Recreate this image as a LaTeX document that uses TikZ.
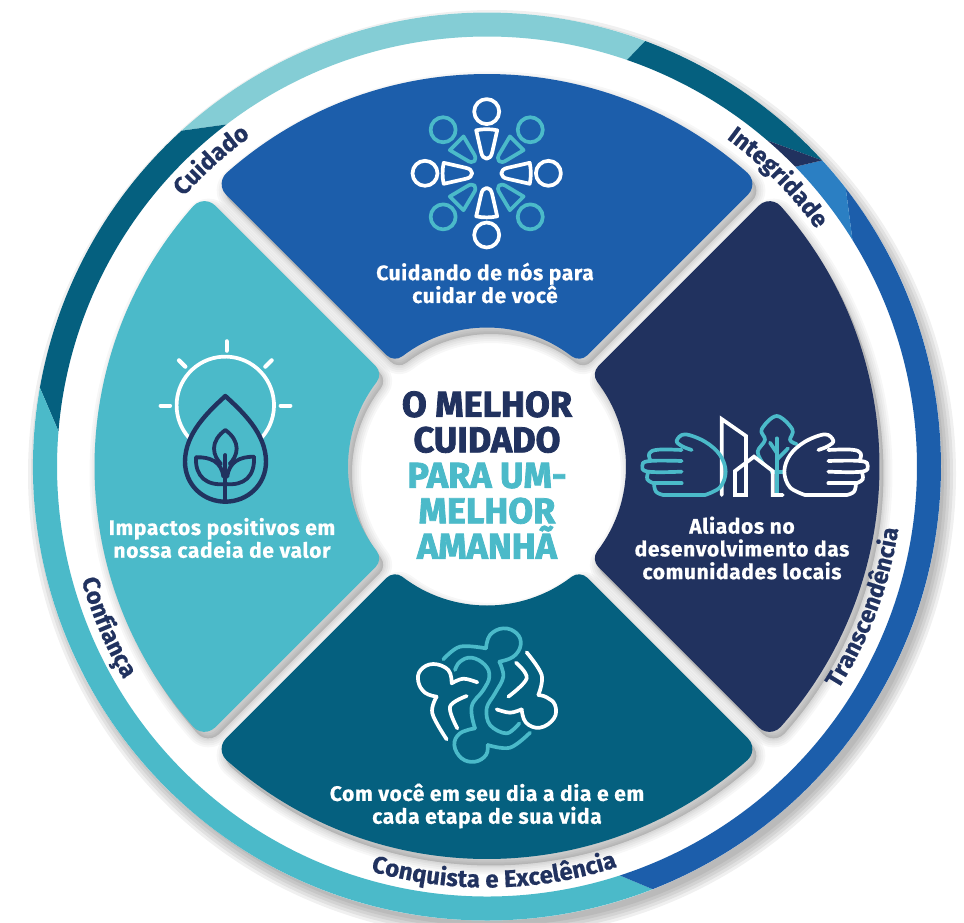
\documentclass[tikz,border=0pt]{standalone}
\usepackage{fontspec}
\setmainfont{Fira Sans}
\usetikzlibrary{decorations.text}
\definecolor{cblue}{HTML}{1C5EAB}
\definecolor{cnavy}{HTML}{21325F}
\definecolor{cdeep}{HTML}{05607F}
\definecolor{cteal}{HTML}{4BBAC9}
\definecolor{clight}{HTML}{84CDD5}
\definecolor{cmid}{HTML}{2B7FC3}
\newcommand{\ringfont}{\fontsize{24}{24}\selectfont\bfseries\addfontfeature{FakeBold=0.6}}
\newcommand{\ringlabel}[4]{% text, centre angle, radius, direction
  \path[decorate,decoration={text along path,text align=center,
     text={|\ringfont\color{cnavy}|#1}}]
     ({#2-#4*40}:#3) arc[start angle={#2-#4*40},end angle={#2+#4*40},radius=#3];}
\tikzset{
  capt/.style={text=white,font=\fontsize{21}{22.8}\selectfont\bfseries\addfontfeature{FakeBold=0.6,LetterSpace=3},align=center,inner sep=0pt},
  title/.style={font=\fontsize{36}{35.5}\selectfont\bfseries\addfontfeature{FakeBold=2.2},align=center,inner sep=0pt},
  iconw/.style={draw=white,line width=3.7pt,line cap=round,line join=round},
  icont/.style={draw=cteal,line width=3.7pt,line cap=round,line join=round},
  iconn/.style={draw=cnavy,line width=4.4pt,line cap=round,line join=round},
}
\newcommand{\secpath}{%
  (45:\tI) ++(135:\secD) -- ++(45:{\tO-\tI})
  arc[start angle=-45,end angle=\thO,radius=\secF]
  arc[start angle=\thO,end angle={180-\thO},radius=\secR]
  arc[start angle={180-\thO},end angle=225,radius=\secF]
  -- ++(-45:{\tO-\tI})
  arc[start angle=225,end angle={360-\thI},radius=\secG]
  arc[start angle={180-\thI},end angle=\thI,radius=\secr]
  arc[start angle={180+\thI},end angle=315,radius=\secG] -- cycle}
\newcommand{\handpath}[1]{%
  \draw[#1] plot[smooth,tension=.6] coordinates {(185,150)(155,138)(140,122)(165,103)(225,125)(270,165)(287,215)(270,262)(225,285)} -- (100,285);
  \draw[#1] plot[smooth,tension=.7] coordinates {(155,150)(85,149)(58,160)(62,183)};
  \draw[#1] plot[smooth,tension=.7] coordinates {(155,183)(58,183)(37,197)(55,215)(155,215)};
  \draw[#1] plot[smooth,tension=.7] coordinates {(55,215)(52,238)(72,250)};
  \draw[#1] (72,250) -- (155,250);
  \draw[#1] plot[smooth,tension=.7] coordinates {(72,250)(78,275)(100,285)};
}
\begin{document}
\begin{tikzpicture}[x=1pt,y=1pt]
\useasboundingbox (0,0) rectangle (964,-922);
\fill[white] (0,0) rectangle (964,-922);
\pgfmathsetmacro\secD{7.7}
\pgfmathsetmacro\secR{392.5}
\pgfmathsetmacro\secr{139}
\pgfmathsetmacro\secF{15}
\pgfmathsetmacro\secG{12}
\pgfmathsetmacro\thO{45+asin((\secD+\secF)/(\secR-\secF))}
\pgfmathsetmacro\thI{45+asin((\secD+\secG)/(\secr+\secG))}
\pgfmathsetmacro\tO{10*sqrt(((\secR-\secF)/10)^2-((\secD+\secF)/10)^2)}
\pgfmathsetmacro\tI{10*sqrt(((\secr+\secG)/10)^2-((\secD+\secG)/10)^2)}
% ring shadow
\foreach \w in {10,7,4,1,-2}{
  \fill[black,opacity=.06] (492,-474) circle ({454+\w});
}
\fill[white] (487,-466.5) circle (454);
% sector shadows
\foreach \rot in {90,180,270,0}{
 \foreach \w in {18,14,10,6,3}{
  \begin{scope}[shift={(491,-473)},rotate=\rot]
   \draw[black,line width=\w pt,opacity=.032,line join=round] \secpath;
   \fill[black,opacity=.032] \secpath;
  \end{scope}
 }
}
% white centre kept light at the middle
\fill[white] (487,-465.6) circle (118);
% ring
\begin{scope}[shift={(487,-466.5)}]
  \fill[clight] (69.6:454) arc[start angle=69.6,end angle=132.3,radius=454] -- (127.3:430) arc[start angle=127.3,end angle=71,radius=430] -- cycle;
  \fill[cdeep] (132.3:454) arc[start angle=132.3,end angle=170,radius=454] -- (175.3:430) arc[start angle=175.3,end angle=127.3,radius=430] -- cycle;
  \fill[cteal] (170:454) arc[start angle=170,end angle=291.4,radius=454] -- (288:430) arc[start angle=288,end angle=175.3,radius=430] -- cycle;
  \fill[cblue] (291.4:454) arc[start angle=291.4,end angle=397.8,radius=454] -- (391.8:430) arc[start angle=391.8,end angle=288,radius=430] -- cycle;
  \fill[cmid] (37.8:454) arc[start angle=37.8,end angle=42.4,radius=454] -- (44.2:430) arc[start angle=44.2,end angle=31.8,radius=430] -- cycle;
  \fill[cdeep] (42.4:454) arc[start angle=42.4,end angle=69.6,radius=454] -- (71:430) arc[start angle=71,end angle=49.3,radius=430] -- cycle;
  \fill[cnavy] (42.4:454) -- (49.3:430) arc[start angle=49.3,end angle=44.2,radius=430] -- cycle;
\end{scope}
% sectors
\begin{scope}[shift={(487,-466.5)}]
  \fill[cblue] \secpath;
  \begin{scope}[rotate=90]\fill[cteal] \secpath;\end{scope}
  \begin{scope}[rotate=180]\fill[cdeep] \secpath;\end{scope}
  \begin{scope}[rotate=270]\fill[cnavy] \secpath;\end{scope}
\end{scope}
% ring labels
\begin{scope}[shift={(487,-466.5)}]
  \ringlabel{Cuidado}{132}{406}{-1}
  \ringlabel{Integridade}{44.8}{406}{-1}
  \ringlabel{Transcendência}{-20.5}{416}{1}
  \ringlabel{Conquista e Excelência}{271}{421}{1}
  \ringlabel{Confiança}{203}{421}{1}
\end{scope}
% people icon
\begin{scope}[shift={(486.7,-173.3)}]
  \foreach \a in {45,135,225,315}{
   \begin{scope}[rotate=\a]
    \draw[icont] (0,61.6) circle (12.5);
    \draw[icont] (-9.7,42.5) -- (9.7,42.5) -- (5,24) .. controls (3.5,15) and (-3.5,15) .. (-5,24) -- cycle;
   \end{scope}}
  \foreach \a in {0,90,180,270}{
   \begin{scope}[rotate=\a]
    \draw[iconw] (0,61.7) circle (12.5);
    \draw[iconw] (-10.5,43) .. controls (-4,44.5) and (4,44.5) .. (10.5,43) -- (5.5,21) .. controls (4,12.5) and (-4,12.5) .. (-5.5,21) -- cycle;
   \end{scope}}
\end{scope}
% sun and drop
\begin{scope}[shift={(225.3,-405.3)}]
  \draw[iconw] (-41.4:48.7) arc[start angle=-41.4,end angle=221.4,radius=48.7];
\end{scope}
\begin{scope}[shift={(140,-330)},scale=1/3,yscale=-1]
  \draw[iconw,line width=4.2pt] (260,34) -- (260,62);
  \draw[iconw,line width=4.2pt] (62,227) -- (90,227);
  \draw[iconw,line width=4.2pt] (422,227) -- (451,227);
  \draw[iconw,line width=4.2pt] (117,91) -- (136,110);
  \draw[iconw,line width=4.2pt] (395,91) -- (376,110);
  \draw[iconn] (256,198) .. controls (205,245) and (135,310) .. (135,395) .. controls (135,465) and (190,515) .. (256,515) .. controls (322,515) and (378,465) .. (378,395) .. controls (378,310) and (307,245) .. (256,198) -- cycle;
  \draw[iconn,line width=3.8pt] (256,300) .. controls (235,315) and (222,335) .. (222,355) .. controls (222,375) and (232,390) .. (243,402);
  \draw[iconn,line width=3.8pt] (256,300) .. controls (277,315) and (290,335) .. (290,355) .. controls (290,375) and (280,390) .. (269,402);
  \draw[iconn,line width=3.8pt] (168,382) .. controls (210,380) and (245,395) .. (250,440);
  \draw[iconn,line width=3.8pt] (168,382) .. controls (165,440) and (200,468) .. (256,462);
  \draw[iconn,line width=3.8pt] (342,380) .. controls (300,380) and (267,395) .. (262,440);
  \draw[iconn,line width=3.8pt] (342,380) .. controls (345,440) and (312,468) .. (256,462);
  \draw[iconn,line width=3.8pt] (256,375) -- (256,510);
\end{scope}
% hands, tree, buildings
\begin{scope}[shift={(630,-400)},scale=1/3,yscale=-1]
  \draw[icont] plot[smooth,tension=.6] coordinates {(500,132)(480,120)(487,88)(440,48)(395,88)(405,120)(383,155)(400,192)};
  \draw[icont] (425,216) -- (458,216);
  \draw[icont] (440,115) -- (440,280);
  \draw[icont] (420,128) -- (440,158);
  \draw[icont] (474,145) -- (440,180);
  \draw[iconw,line join=miter] (275,285) -- (275,57) -- (348,108) -- (348,285) -- (315,285) -- (315,213) -- (372,170) -- (428,213) -- (428,285) -- (458,285);
  \handpath{icont}
\end{scope}
\begin{scope}[shift={(880,-400)},xscale=-1/3,yscale=-1/3]
  \handpath{iconw}
\end{scope}
% interlocked figures
\begin{scope}[shift={(400,-620)},scale=1/3,yscale=-1]
  \draw[icont] plot[smooth,tension=.6] coordinates {(130,118)(180,80)(258,85)};
  \draw[icont] plot[smooth,tension=.7] coordinates {(258,85)(270,45)(310,25)(350,40)(362,75)(340,110)(298,125)};
  \draw[icont] plot[smooth,tension=.6] coordinates {(298,125)(310,170)(285,220)(260,265)(270,315)(320,340)(358,310)};
  \draw[icont] plot[smooth,tension=.7] coordinates {(165,150)(180,125)(215,113)(255,135)(268,170)(250,210)(215,260)(225,325)};
  \draw[icont] plot[smooth,tension=.7] coordinates {(225,325)(180,340)(163,375)(185,415)(225,425)(258,405)(263,375)};
  \draw[icont] plot[smooth,tension=.6] coordinates {(263,375)(330,383)(390,338)};
  \draw[iconw] plot[smooth,tension=.6] coordinates {(232,187)(190,176)(155,190)};
  \draw[iconw] plot[smooth,tension=.7] coordinates {(155,190)(145,150)(100,132)(62,150)(55,185)(75,218)(110,230)};
  \draw[iconw] plot[smooth,tension=.6] coordinates {(110,230)(97,280)(140,358)};
  \draw[iconw] plot[smooth,tension=.6] coordinates {(200,228)(150,260)(172,325)};
  \draw[iconw] plot[smooth,tension=.6] coordinates {(290,268)(330,278)(365,268)};
  \draw[iconw] plot[smooth,tension=.7] coordinates {(365,268)(378,308)(420,323)(462,295)(465,255)(440,232)(415,225)};
  \draw[iconw] plot[smooth,tension=.6] coordinates {(415,225)(425,165)(380,97)};
  \draw[iconw] plot[smooth,tension=.6] coordinates {(348,128)(380,175)(325,230)};
\end{scope}
% texts
\node[capt] (t1) at (485,-283) {Cuidando de nós para\\cuidar de você};
\node[capt] (t2) at (222,-538) {Impactos positivos em\\nossa cadeia de valor};
\node[capt] (t3) at (742,-548) {Aliados no\\desenvolvimento das\\comunidades locais};
\node[capt] (t4) at (487,-806) {Com você em seu dia a dia e em\\cada etapa de sua vida};
\node[title] (c) at (487,-475) {\textcolor{cnavy}{O MELHOR}\\\textcolor{cnavy}{CUIDADO}\\\textcolor{cteal}{PARA UM-}\\\textcolor{cteal}{MELHOR}\\\textcolor{cteal}{AMANHÃ}};
\end{tikzpicture}
\end{document}
